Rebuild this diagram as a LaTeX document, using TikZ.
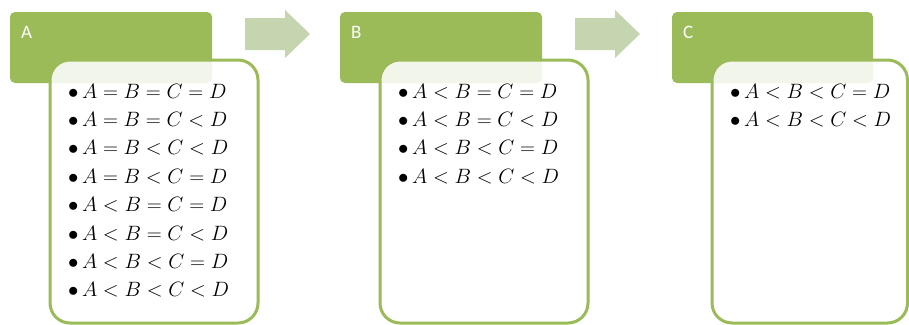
\documentclass[tikz,border=0pt]{standalone}
\usepackage{fontspec}
\newfontfamily\hdrfont{Carlito}
\usetikzlibrary{positioning}
\definecolor{ogreen}{RGB}{155,187,89}
\definecolor{arrowgreen}{RGB}{197,213,176}
\tikzset{
  header/.style={fill=ogreen, draw=none, rounded corners=5pt},
  content/.style={fill=white, fill opacity=0.88, draw=ogreen, line width=3pt, rounded corners=20pt},
  hlabel/.style={text=white, font=\hdrfont\fontsize{19}{22}\selectfont, anchor=base west, inner sep=0pt},
  items/.style={anchor=base west, inner sep=0pt, font=\fontsize{20}{28.4}\selectfont},
  flowarrow/.style={fill=arrowgreen, draw=none}
}
\begin{document}
\begin{tikzpicture}[x=1pt,y=-1pt]
\useasboundingbox (0,0) rectangle (909,324);
% arrows
\fill[flowarrow] (245,18) -- (285,18) -- (285,10) -- (310,34) -- (285,58) -- (285,50) -- (245,50) -- cycle;
\fill[flowarrow] (575,18) -- (615,18) -- (615,10) -- (640,34) -- (615,58) -- (615,50) -- (575,50) -- cycle;
% box A
\draw[header] (10,12) rectangle (212,83);
\node[hlabel] (hA) at (21,38) {A};
\draw[content] (50,60) rectangle (258,323);
\node[items] (tA) at (68,98) {\begin{tabular}[t]{@{}l@{}}
$\bullet\,A=B=C=D$\\
$\bullet\,A=B=C<D$\\
$\bullet\,A=B<C<D$\\
$\bullet\,A=B<C=D$\\
$\bullet\,A<B=C=D$\\
$\bullet\,A<B=C<D$\\
$\bullet\,A<B<C=D$\\
$\bullet\,A<B<C<D$
\end{tabular}};
% box B
\draw[header] (340,12) rectangle (542,83);
\node[hlabel] (hB) at (351,38) {B};
\draw[content] (380,60) rectangle (588,323);
\node[items] (tB) at (398,98) {\begin{tabular}[t]{@{}l@{}}
$\bullet\,A<B=C=D$\\
$\bullet\,A<B=C<D$\\
$\bullet\,A<B<C=D$\\
$\bullet\,A<B<C<D$
\end{tabular}};
% box C
\draw[header] (672,12) rectangle (873,83);
\node[hlabel] (hC) at (683,38) {C};
\draw[content] (712,60) rectangle (907.5,323);
\node[items] (tC) at (730,98) {\begin{tabular}[t]{@{}l@{}}
$\bullet\,A<B<C=D$\\
$\bullet\,A<B<C<D$
\end{tabular}};
\end{tikzpicture}
\end{document}
